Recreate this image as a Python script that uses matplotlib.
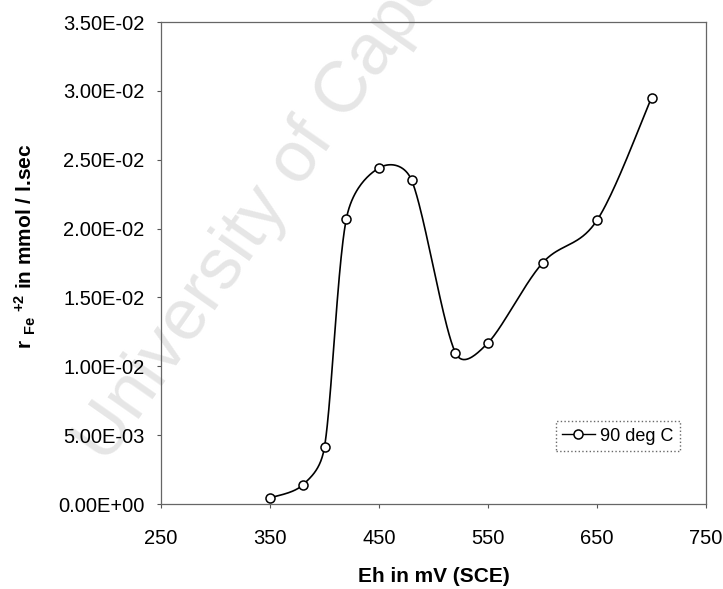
import numpy as np
import matplotlib
matplotlib.use("Agg")
import matplotlib.pyplot as plt

eh_mv = [350, 380, 400, 420, 450, 480, 520, 550, 600, 650, 700]
rate = [0.00044, 0.00138, 0.00414, 0.0207, 0.0244, 0.0235, 0.0110, 0.0117, 0.0175, 0.0206, 0.0295]
series_label = "90 deg C"
x_ticks = [250, 350, 450, 550, 650, 750]
y_ticks = [0.0, 0.005, 0.01, 0.015, 0.02, 0.025, 0.03, 0.035]
y_tick_labels = ["0.00E+00", "5.00E-03", "1.00E-02", "1.50E-02", "2.00E-02",
                 "2.50E-02", "3.00E-02", "3.50E-02"]

plt.rcParams['font.family'] = ['Liberation Sans', 'DejaVu Sans']
plt.rcParams['mathtext.fontset'] = 'custom'
plt.rcParams['mathtext.rm'] = 'Liberation Sans:bold'
plt.rcParams['mathtext.it'] = 'Liberation Sans:bold'
plt.rcParams['mathtext.bf'] = 'Liberation Sans:bold'

fig = plt.figure(figsize=(7.23, 5.89), dpi=100)
ax = fig.add_axes([161/723, 1 - 504/589, (706-161)/723, (504-22)/589])
ax.set_xlim(250, 750)
ax.set_ylim(0, 0.035)

# watermark
fig.text(0.147, 0.21, "University of Cape Town", fontsize=52, color='#e6e6e6',
         rotation=55, rotation_mode='anchor', ha='left', va='baseline', zorder=-1)

# Excel-style smoothed line (Bezier with limited Catmull-Rom tangents, display space)
fig.canvas.draw()
pts = ax.transData.transform(np.column_stack([eh_mv, rate]))
n = len(pts)
curve = []
for i in range(n - 1):
    p0 = pts[i - 1] if i > 0 else pts[i]
    p1 = pts[i]
    p2 = pts[i + 1]
    p3 = pts[i + 2] if i + 2 < n else pts[i + 1]
    d12 = np.hypot(*(p2 - p1))
    d02 = np.hypot(*(p2 - p0))
    d13 = np.hypot(*(p3 - p1))
    f = 1/6 if d02 / 6 < d12 / 2 else d12 / (2 * d02)
    g = 1/6 if d13 / 6 < d12 / 2 else d12 / (2 * d13)
    c1 = p1 + (p2 - p0) * f
    c2 = p2 - (p3 - p1) * g
    t = np.linspace(0, 1, 40)[:, None]
    seg = ((1 - t) ** 3) * p1 + 3 * ((1 - t) ** 2) * t * c1 + 3 * (1 - t) * t ** 2 * c2 + t ** 3 * p2
    curve.append(seg if i == 0 else seg[1:])
curve = np.vstack(curve)
curve_data = ax.transData.inverted().transform(curve)
ax.plot(curve_data[:, 0], curve_data[:, 1], color='black', lw=1.2, zorder=3)
ax.plot(eh_mv, rate, linestyle='none', marker='o', markersize=6.5, mfc='white',
        mec='black', mew=1.1, zorder=4)
h, = ax.plot([], [], color='black', lw=1.0, marker='o', markersize=6.5, mfc='white',
             mec='black', mew=1.1)

ax.set_xticks(x_ticks)
ax.set_yticks(y_ticks)
ax.set_yticklabels(y_tick_labels)
ax.tick_params(axis='both', direction='out', length=3, width=0.8, color='#555555',
               labelsize=14.5)
ax.tick_params(axis='y', pad=9)
ax.tick_params(axis='x', pad=15)
for s in ax.spines.values():
    s.set_color('#666666')
    s.set_linewidth(0.9)
ax.patch.set_alpha(0)

ax.set_xlabel("Eh in mV (SCE)", fontsize=15, fontweight='bold', labelpad=14)
ax.set_ylabel("r " + r"${}_{\mathbf{Fe}}\;{}^{\mathbf{+2}}$" + " in mmol / l.sec",
              fontsize=15, fontweight='bold')
ax.yaxis.set_label_coords(-0.226, 0.535)

leg = ax.legend([h], [series_label], loc='lower right', bbox_to_anchor=(0.952, 0.11),
                fontsize=13, frameon=True, fancybox=False, handlelength=1.8,
                handletextpad=0.3, borderpad=0.35, borderaxespad=0)
leg.get_frame().set_edgecolor('#444444')
leg.get_frame().set_linestyle(':')
leg.get_frame().set_linewidth(1.0)

fig.savefig("out.png", dpi=100)
